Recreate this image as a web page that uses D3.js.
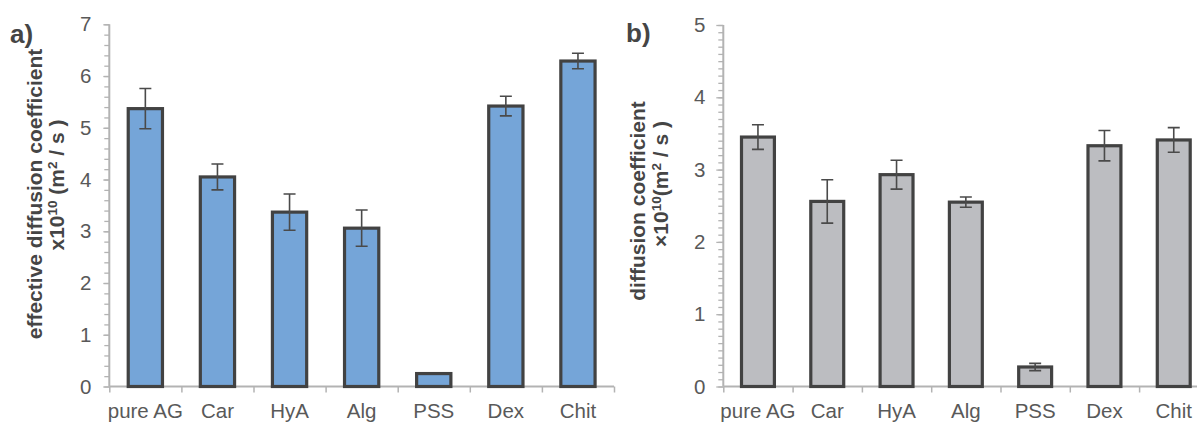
<!DOCTYPE html>
<html>
<head>
<meta charset="utf-8">
<script src="https://cdn.jsdelivr.net/npm/d3@7"></script>
<style>
  html, body { margin: 0; padding: 0; background: #fff; }
  svg { display: block; font-family: "Liberation Sans", Arial, sans-serif; }
</style>
</head>
<body>
<svg id="chart" width="1197" height="424"></svg>
<script>
// ---------- data ----------
const categories = ["pure AG", "Car", "HyA", "Alg", "PSS", "Dex", "Chit"];
const effValues  = [5.37, 4.05, 3.37, 3.06, 0.25, 5.42, 6.29];
const effErrors  = [0.39, 0.25, 0.35, 0.35, 0.0, 0.19, 0.15];
const diffValues = [3.45, 2.56, 2.93, 2.55, 0.27, 3.33, 3.41];
const diffErrors = [0.17, 0.30, 0.20, 0.07, 0.05, 0.21, 0.17];
const yTicksA = [0, 1, 2, 3, 4, 5, 6, 7];
const yTicksB = [0, 1, 2, 3, 4, 5];

const svg = d3.select("#chart");
const TICK_COLOR = "#595959";
const TITLE_COLOR = "#454545";
const AXIS_COLOR = "#b3b3b3";
const BAR_STROKE = "#424242";

function panel(cfg) {
  const g = svg.append("g");
  const y = d3.scaleLinear().domain([0, cfg.yMax]).range([cfg.y0, cfg.yTop]);
  const x = d3.scaleBand().domain(categories).range([cfg.x0, cfg.x1])
    .paddingInner(cfg.pad).paddingOuter(cfg.pad / 2);
  const xIdx = d3.scaleLinear().domain([0, categories.length]).range([cfg.x0, cfg.x1]);

  // minor y ticks
  const minor = d3.range(0, cfg.yMax + 1e-9, cfg.minorStep).map(v => +v.toFixed(3));
  const minorAxis = g.append("g").attr("transform", `translate(${cfg.x0},0)`)
    .call(d3.axisLeft(y).tickValues(minor).tickSize(cfg.minorLen).tickFormat(""));
  minorAxis.select(".domain").remove();
  minorAxis.selectAll("line").attr("stroke", AXIS_COLOR).attr("stroke-width", 1.3);

  // major y ticks + labels
  const yAxis = g.append("g").attr("transform", `translate(${cfg.x0},0)`)
    .call(d3.axisLeft(y).tickValues(cfg.yTicks).tickSize(cfg.majorLen).tickPadding(18 - cfg.majorLen).tickFormat(d3.format("d")));
  yAxis.select(".domain").attr("stroke", AXIS_COLOR).attr("stroke-width", 2)
    .attr("d", `M0,${cfg.y0}V${cfg.yTop}`);
  yAxis.selectAll("line").attr("stroke", AXIS_COLOR).attr("stroke-width", 1.3);
  yAxis.selectAll("text").attr("fill", TICK_COLOR).style("font-size", "20.5px");

  // x axis with boundary ticks
  const xAxis = g.append("g").attr("transform", `translate(0,${cfg.y0})`)
    .call(d3.axisBottom(xIdx).tickValues(d3.range(0, categories.length + 1)).tickSize(6).tickFormat(""));
  xAxis.select(".domain").attr("stroke", AXIS_COLOR).attr("stroke-width", 2)
    .attr("d", `M${cfg.x0},0H${cfg.x1}`);
  xAxis.selectAll("line").attr("stroke", AXIS_COLOR).attr("stroke-width", 1.5);

  // x labels
  const xLab = g.append("g").attr("transform", `translate(0,${cfg.y0})`)
    .call(d3.axisBottom(x).tickSize(0).tickPadding(17));
  xLab.select(".domain").remove();
  xLab.selectAll("text").attr("fill", TICK_COLOR).style("font-size", "20.5px");

  // bars
  g.selectAll("rect.bar").data(cfg.values).enter().append("rect")
    .attr("class", "bar")
    .attr("x", (d, i) => x(categories[i]))
    .attr("width", x.bandwidth())
    .attr("y", d => y(d))
    .attr("height", d => y(0) - y(d))
    .attr("fill", cfg.fill)
    .attr("stroke", BAR_STROKE)
    .attr("stroke-width", 3.2);

  // error bars
  const cap = 6;
  const eb = g.append("g").attr("stroke", "#4a4a4a").attr("stroke-width", 1.6).attr("fill", "none");
  cfg.values.forEach((v, i) => {
    const cx = x(categories[i]) + x.bandwidth() / 2;
    const e = cfg.errors[i];
    if (e <= 0) return;
    const yt = y(v + e), yb = y(v - e);
    eb.append("path").attr("d", `M${cx},${yt}V${yb}M${cx - cap},${yt}H${cx + cap}M${cx - cap},${yb}H${cx + cap}`);
  });

  // axis title
  cfg.titles.forEach(t => {
    const txt = g.append("text")
      .attr("transform", `translate(${t.x},${t.y}) rotate(-90)`)
      .attr("text-anchor", "middle")
      .attr("fill", TITLE_COLOR)
      .style("font-size", "21px")
      .style("font-weight", "bold");
    t.parts.forEach(p => {
      const ts = txt.append("tspan").text(p.s);
      if (p.sup) ts.attr("baseline-shift", "super").style("font-size", "13.5px");
    });
  });

  g.append("text").attr("x", cfg.label.x).attr("y", cfg.label.y)
    .attr("fill", TITLE_COLOR).style("font-size", "26px").style("font-weight", "bold")
    .text(cfg.label.s);
}

panel({
  x0: 109.3, x1: 614, y0: 386.5, yTop: 24.3, yMax: 7, yTicks: yTicksA,
  minorStep: 0.2, minorLen: 5, majorLen: 6, pad: 0.525,
  values: effValues, errors: effErrors, fill: "#75a5d8",
  titles: [
    { x: 42, y: 194, parts: [{ s: "effective diffusion coefficient" }] },
    { x: 64, y: 185, parts: [{ s: "x10" }, { s: "10", sup: true }, { s: " (m" }, { s: "2", sup: true }, { s: " / s )" }] }
  ],
  label: { x: 10, y: 43, s: "a)" }
});

panel({
  x0: 723.3, x1: 1208.4, y0: 386.5, yTop: 25, yMax: 5, yTicks: yTicksB,
  minorStep: 0.1, minorLen: 5, majorLen: 7, pad: 0.525,
  values: diffValues, errors: diffErrors, fill: "#bcbdc1",
  titles: [
    { x: 645, y: 201, parts: [{ s: "diffusion coefficient" }] },
    { x: 668, y: 184, parts: [{ s: "×10" }, { s: "10", sup: true }, { s: "(m" }, { s: "2", sup: true }, { s: " / s )" }] }
  ],
  label: { x: 626, y: 42, s: "b)" }
});
</script>
</body>
</html>
